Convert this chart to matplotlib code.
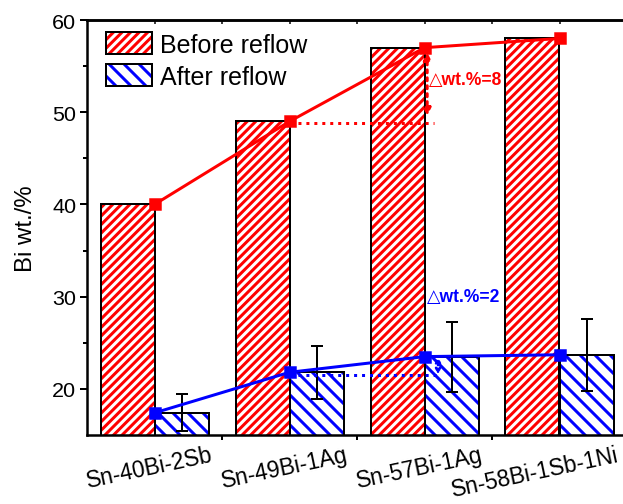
import numpy as np
import matplotlib
matplotlib.use("Agg")
import matplotlib.pyplot as plt
from matplotlib.patches import Patch
from matplotlib.legend_handler import HandlerTuple
from matplotlib.transforms import ScaledTranslation

# ---- data ----
categories = ['Sn-40Bi-2Sb', 'Sn-49Bi-1Ag', 'Sn-57Bi-1Ag', 'Sn-58Bi-1Sb-1Ni']
before = [40, 49, 57, 58]
after = [17.4, 21.8, 23.5, 23.7]
after_err = [2.0, 2.9, 3.8, 3.9]
legend_labels = ['Before reflow', 'After reflow']
ylabel = 'Bi wt./%'

DPI = 180
RED = '#ff0000'
BLUE = '#0000ff'
HATCH_RED = '/' * 7
HATCH_BLUE = '\\' * 4

plt.rcParams['font.family'] = ['Liberation Sans', 'DejaVu Sans']
plt.rcParams['hatch.linewidth'] = 1.2

fig = plt.figure(figsize=(623 / DPI, 505 / DPI), dpi=DPI)
ax = fig.add_axes([87 / 623, 69 / 505, 536 / 623, 415 / 505])

x = np.arange(len(categories))
w = 0.4

# hatched fills
ax.bar(x - w / 2, before, w, facecolor='white', edgecolor=RED, hatch=HATCH_RED, linewidth=0, zorder=2)
ax.bar(x + w / 2, after, w, facecolor='white', edgecolor=BLUE, hatch=HATCH_BLUE, linewidth=0, zorder=2)
# black outlines
ax.bar(x - w / 2, before, w, fill=False, edgecolor='black', linewidth=0.8, zorder=3)
ax.bar(x + w / 2, after, w, fill=False, edgecolor='black', linewidth=0.8, zorder=3)

ax.errorbar(x + w / 2, after, yerr=after_err, fmt='none', ecolor='black',
            elinewidth=0.8, capsize=2.5, capthick=0.8, zorder=4)

ax.plot(x, before, 's-', color=RED, ms=4.2, lw=1.2, zorder=5)
ax.plot(x, after, 's-', color=BLUE, ms=4.2, lw=1.2, zorder=5)

# annotations of differences
d_before = before[2] - before[1]
d_after = after[2] - after[1]
ax.plot([x[1], x[2] + 0.07], [before[1] - 0.2] * 2, ':', color=RED, lw=1.2, zorder=5)
ax.annotate('', xy=(x[2] + 0.02, before[2] - 0.5), xytext=(x[2] + 0.02, before[1] + 0.6),
            arrowprops=dict(arrowstyle='<|-|>', linestyle=':', color=RED, lw=1.2,
                            mutation_scale=6, shrinkA=0, shrinkB=0), zorder=6)
ax.text(x[2] + 0.03, 53.6, '\u25b3wt.%=' + f'{round(d_before)}', color=RED, fontsize=7,
        fontweight='bold', va='center', ha='left', zorder=6)

ax.plot([x[1], x[2] + 0.1], [after[1] - 0.25] * 2, ':', color=BLUE, lw=1.2, zorder=5)
ax.annotate('', xy=(x[2] + 0.1, after[2]), xytext=(x[2] + 0.1, after[1] - 0.25),
            arrowprops=dict(arrowstyle='<|-|>', linestyle=':', color=BLUE, lw=1.0,
                            mutation_scale=4, shrinkA=0, shrinkB=0), zorder=6)
ax.text(x[2] + 0.02, 30.0, '\u25b3wt.%=' + f'{round(d_after)}', color=BLUE, fontsize=7,
        fontweight='bold', va='center', ha='left', zorder=6)

# axes
ax.set_xlim(-0.5, -0.5 + 536 / 135)
ax.set_ylim(15, 60)
ax.set_yticks([20, 30, 40, 50, 60])
ax.set_yticks([25, 35, 45, 55], minor=True)
ax.set_xticks(x, categories, rotation=12, ha='right', va='top', rotation_mode='anchor')
ax.set_xticks([0.5, 1.5, 2.5], minor=True)
ax.tick_params(axis='x', which='major', length=0, pad=3.2, labelsize=9.1)
ax.tick_params(axis='x', which='minor', length=1.8, width=0.8, direction='out')
ax.tick_params(axis='y', which='major', length=3.0, width=0.8, direction='out', labelsize=8.6, pad=1.2)
ax.tick_params(axis='y', which='minor', length=1.8, width=0.8, direction='out')
ax.set_ylabel(ylabel, fontsize=9.6, labelpad=6)

shift = ScaledTranslation(56 / DPI, 0, fig.dpi_scale_trans)
for lab in ax.get_xticklabels():
    lab.set_transform(lab.get_transform() + shift)

for s in ['left', 'bottom', 'top']:
    ax.spines[s].set_linewidth(1.0)
ax.spines['right'].set_visible(False)

sec = ax.secondary_xaxis('top')
sec.set_xticks([0, 0.5, 1, 1.5, 2, 2.5, 3], [''] * 7)
sec.tick_params(direction='in', length=1.5, width=0.6)
sec.spines['top'].set_linewidth(1.0)

# legend
h1 = (Patch(facecolor='white', edgecolor=RED, hatch=HATCH_RED, linewidth=0),
      Patch(fill=False, edgecolor='black', linewidth=0.8))
h2 = (Patch(facecolor='white', edgecolor=BLUE, hatch=HATCH_BLUE, linewidth=0),
      Patch(fill=False, edgecolor='black', linewidth=0.8))
ax.legend([h1, h2], legend_labels, handler_map={tuple: HandlerTuple(ndivide=1)},
          loc='upper left', bbox_to_anchor=(0.035, 0.97), frameon=False,
          fontsize=10, handlelength=1.85, handleheight=0.95, handletextpad=0.3,
          labelspacing=0.3, borderpad=0, borderaxespad=0)

fig.savefig('out.png', dpi=DPI)
